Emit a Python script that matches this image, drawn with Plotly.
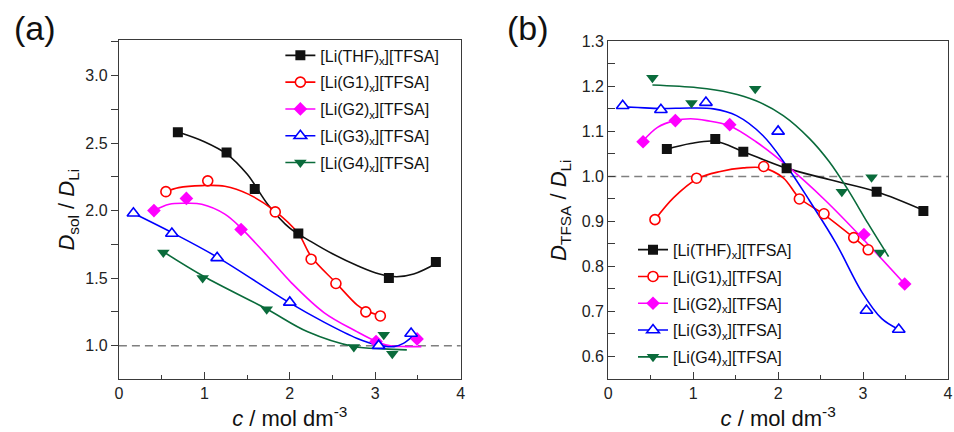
import plotly.graph_objects as go

# ---------------- data ----------------
series_names = [
    "[Li(THF)<sub>x</sub>][TFSA]",
    "[Li(G1)<sub>x</sub>][TFSA]",
    "[Li(G2)<sub>x</sub>][TFSA]",
    "[Li(G3)<sub>x</sub>][TFSA]",
    "[Li(G4)<sub>x</sub>][TFSA]",
]

# concentrations (mol dm-3)
c_thf = [0.69, 1.26, 1.59, 2.10, 3.16, 3.71]
c_g1 = [0.55, 1.04, 1.83, 2.25, 2.54, 2.89, 3.06]
c_g2 = [0.41, 0.79, 1.43, 3.01, 3.49]
c_g3 = [0.17, 0.62, 1.15, 2.00, 3.04, 3.42]
c_g4 = [0.52, 0.98, 1.73, 2.75, 3.10, 3.20]

# (a) D_sol / D_Li
a_thf = [2.58, 2.43, 2.16, 1.83, 1.50, 1.62]
a_g1 = [2.14, 2.22, 1.99, 1.64, 1.46, 1.25, 1.22]
a_g2 = [2.00, 2.09, 1.86, 1.03, 1.05]
a_g3 = [1.98, 1.83, 1.65, 1.32, 1.00, 1.09]
a_g4 = [1.69, 1.50, 1.27, 0.99, 1.08, 0.94]

# (b) D_TFSA / D_Li
b_thf = [1.061, 1.083, 1.055, 1.018, 0.966, 0.923]
b_g1 = [0.904, 0.996, 1.022, 0.950, 0.917, 0.864, 0.837]
b_g2 = [1.077, 1.124, 1.115, 0.871, 0.761]
b_g3 = [1.157, 1.148, 1.164, 1.100, 0.702, 0.660]
b_g4 = [1.219, 1.163, 1.195, 0.966, 0.998, 0.831]

# smoothed guide curves, panel (a)
fa_thf_x = [0.70, 1.00, 1.26, 1.50, 1.75, 2.00, 2.25, 2.50, 2.80, 3.05, 3.25, 3.45, 3.72]
fa_thf_y = [2.58, 2.51, 2.42, 2.27, 2.04, 1.87, 1.77, 1.68, 1.59, 1.53, 1.51, 1.53, 1.61]
fa_g1_x = [0.55, 0.70, 0.97, 1.24, 1.52, 1.82, 2.10, 2.25, 2.54, 2.79, 2.89, 3.06]
fa_g1_y = [2.14, 2.17, 2.185, 2.18, 2.12, 2.00, 1.83, 1.66, 1.465, 1.30, 1.26, 1.22]
fa_g2_x = [0.41, 0.59, 0.79, 0.97, 1.24, 1.44, 1.71, 2.02, 2.40, 2.79, 3.02, 3.18, 3.37, 3.54]
fa_g2_y = [2.00, 2.047, 2.054, 2.047, 1.974, 1.865, 1.683, 1.465, 1.245, 1.102, 1.029, 0.998, 0.993, 0.993]
fa_g3_x = [0.17, 0.63, 1.16, 1.99, 2.40, 2.79, 3.02, 3.22, 3.33, 3.43]
fa_g3_y = [1.98, 1.834, 1.652, 1.32, 1.174, 1.053, 1.005, 0.993, 1.017, 1.065]
fa_g4_x = [0.52, 0.99, 1.73, 2.21, 2.75, 3.10, 3.37]
fa_g4_y = [1.695, 1.514, 1.271, 1.102, 0.993, 0.976, 0.969]

# smoothed guide curves, panel (b)
fb_thf_x = [0.68, 0.97, 1.26, 1.59, 2.09, 2.60, 3.16, 3.72]
fb_thf_y = [1.060, 1.073, 1.078, 1.055, 1.019, 0.993, 0.966, 0.924]
fb_g1_x = [0.55, 0.77, 1.05, 1.32, 1.59, 1.82, 2.06, 2.25, 2.53, 2.89, 3.06]
fb_g1_y = [0.904, 0.953, 0.995, 1.011, 1.019, 1.019, 0.997, 0.952, 0.917, 0.864, 0.837]
fb_g2_x = [0.40, 0.58, 0.78, 0.97, 1.16, 1.42, 1.74, 2.09, 2.56, 3.03, 3.49]
fb_g2_y = [1.077, 1.109, 1.124, 1.128, 1.124, 1.113, 1.077, 1.026, 0.946, 0.855, 0.761]
fb_g3_x = [0.11, 0.35, 0.62, 0.97, 1.24, 1.51, 1.82, 2.09, 2.37, 2.68, 2.99, 3.22, 3.41]
fb_g3_y = [1.155, 1.153, 1.151, 1.152, 1.150, 1.135, 1.091, 1.026, 0.946, 0.852, 0.742, 0.684, 0.661]
fb_g4_x = [0.52, 1.05, 1.43, 1.74, 2.06, 2.37, 2.60, 2.83, 3.06, 3.30]
fb_g4_y = [1.203, 1.197, 1.186, 1.168, 1.135, 1.084, 1.033, 0.968, 0.895, 0.822]

reference_ratio = 1.0

# ---------------- styles ----------------
colors = ["#111111", "#ff0000", "#ff00ff", "#0000ff", "#0a6b3b"]
symbols = ["square", "circle", "diamond", "triangle-up", "triangle-down"]
sizes = [10, 10, 10.5, 11, 11]
filled = [True, False, True, False, True]

FONT = "Liberation Sans, Arial, Helvetica, sans-serif"
AXIS_COLOR = "#3a3a3a"

fig = go.Figure()


def marker_style(i):
    if filled[i]:
        return dict(symbol=symbols[i], size=sizes[i], color=colors[i],
                    line=dict(width=0))
    return dict(symbol=symbols[i], size=sizes[i], color="white",
                line=dict(width=1.6, color=colors[i]))


def add_panel(xa, ya, legend, xs, ys, fits):
    for i in range(5):
        fx, fy = fits[i]
        fig.add_trace(go.Scatter(
            x=fx, y=fy, mode="lines", xaxis=xa, yaxis=ya,
            line=dict(color=colors[i], width=1.6, shape="spline", smoothing=1.0),
            showlegend=False, hoverinfo="skip"))
    for i in range(5):
        fig.add_trace(go.Scatter(
            x=xs[i], y=ys[i], mode="markers", xaxis=xa, yaxis=ya,
            marker=marker_style(i), showlegend=False))
    # legend entries (line + symbol)
    for i in range(5):
        fig.add_trace(go.Scatter(
            x=[None], y=[None], mode="lines+markers", xaxis=xa, yaxis=ya,
            name=series_names[i], legend=legend, legendgroup=f"{legend}{i}",
            line=dict(color=colors[i], width=1.6),
            marker=marker_style(i), showlegend=True))


xs = [c_thf, c_g1, c_g2, c_g3, c_g4]
add_panel("x", "y", "legend", xs, [a_thf, a_g1, a_g2, a_g3, a_g4],
          [(fa_thf_x, fa_thf_y), (fa_g1_x, fa_g1_y), (fa_g2_x, fa_g2_y),
           (fa_g3_x, fa_g3_y), (fa_g4_x, fa_g4_y)])
add_panel("x2", "y2", "legend2", xs, [b_thf, b_g1, b_g2, b_g3, b_g4],
          [(fb_thf_x, fb_thf_y), (fb_g1_x, fb_g1_y), (fb_g2_x, fb_g2_y),
           (fb_g3_x, fb_g3_y), (fb_g4_x, fb_g4_y)])

# dashed reference line at ratio = 1
for xr, yr in [("x domain", "y"), ("x2 domain", "y2")]:
    fig.add_shape(type="line", xref=xr, yref=yr, x0=0, x1=1,
                  y0=reference_ratio, y1=reference_ratio,
                  line=dict(color="#7f7f7f", width=1.5, dash="8px,5px"),
                  layer="below")

tick_font = dict(family=FONT, size=16, color="#222222")
title_font = dict(family=FONT, size=22, color="#111111")


def x_axis(domain, anchor):
    return dict(domain=domain, anchor=anchor, range=[0, 4], dtick=1, tick0=0,
                showgrid=False, zeroline=False, showline=True, mirror=True,
                linecolor=AXIS_COLOR, linewidth=1.3,
                ticks="inside", ticklen=7, tickwidth=1.3, tickcolor=AXIS_COLOR,
                minor=dict(dtick=0.5, ticks="inside", ticklen=4, tickwidth=1.2,
                           tickcolor=AXIS_COLOR, showgrid=False),
                tickfont=tick_font,
                title=dict(text="<i>c</i> / mol dm<sup>-3</sup>", font=title_font,
                           standoff=9))


fig.update_layout(
    width=954, height=432,
    margin=dict(l=0, r=0, t=0, b=0),
    paper_bgcolor="white", plot_bgcolor="white",
    font=dict(family=FONT, color="#111111"),
    xaxis=x_axis([116 / 954, 461 / 954], "y"),
    xaxis2=x_axis([610 / 954, 953 / 954], "y2"),
    yaxis=dict(domain=[54 / 432, 399 / 432], anchor="x", range=[0.753, 3.26],
               dtick=0.5, tick0=0, tickformat=".1f",
               showgrid=False, zeroline=False, showline=True, mirror=True,
               linecolor=AXIS_COLOR, linewidth=1.3,
               ticks="outside", ticklen=7, tickwidth=1.3, tickcolor=AXIS_COLOR,
               minor=dict(dtick=0.25, ticks="outside", ticklen=7, tickwidth=1.2,
                          tickcolor=AXIS_COLOR, showgrid=False),
               tickfont=tick_font,
               title=dict(text="<i>D</i><sub>sol</sub> / <i>D</i><sub>Li</sub>",
                          font=title_font, standoff=4)),
    yaxis2=dict(domain=[54 / 432, 398 / 432], anchor="x2", range=[0.55, 1.3],
                dtick=0.1, tick0=0, tickformat=".1f",
                showgrid=False, zeroline=False, showline=True, mirror=True,
                linecolor=AXIS_COLOR, linewidth=1.3,
                ticks="inside", ticklen=7, tickwidth=1.3, tickcolor=AXIS_COLOR,
                minor=dict(dtick=0.05, ticks="inside", ticklen=7, tickwidth=1.2,
                           tickcolor=AXIS_COLOR, showgrid=False),
                tickfont=tick_font,
                title=dict(text="<i>D</i><sub>TFSA</sub> / <i>D</i><sub>Li</sub>",
                           font=title_font, standoff=8)),
    legend=dict(x=279 / 954, y=(432 - 31) / 432, xanchor="left", yanchor="top",
                bgcolor="rgba(0,0,0,0)", borderwidth=0, tracegroupgap=3,
                font=dict(family=FONT, size=16, color="#111111")),
    legend2=dict(x=635 / 954, y=(432 - 229) / 432, xanchor="left", yanchor="top",
                 bgcolor="rgba(0,0,0,0)", borderwidth=0, tracegroupgap=3,
                 font=dict(family=FONT, size=16, color="#111111")),
    annotations=[
        dict(text="(a)", x=31 / 954, y=(432 - 20) / 432, xref="paper", yref="paper",
             showarrow=False, font=dict(family=FONT, size=34, color="#111111"),
             xanchor="center", yanchor="middle"),
        dict(text="(b)", x=529 / 954, y=(432 - 20) / 432, xref="paper", yref="paper",
             showarrow=False, font=dict(family=FONT, size=34, color="#111111"),
             xanchor="center", yanchor="middle"),
    ],
)

fig.write_html("out.html")
